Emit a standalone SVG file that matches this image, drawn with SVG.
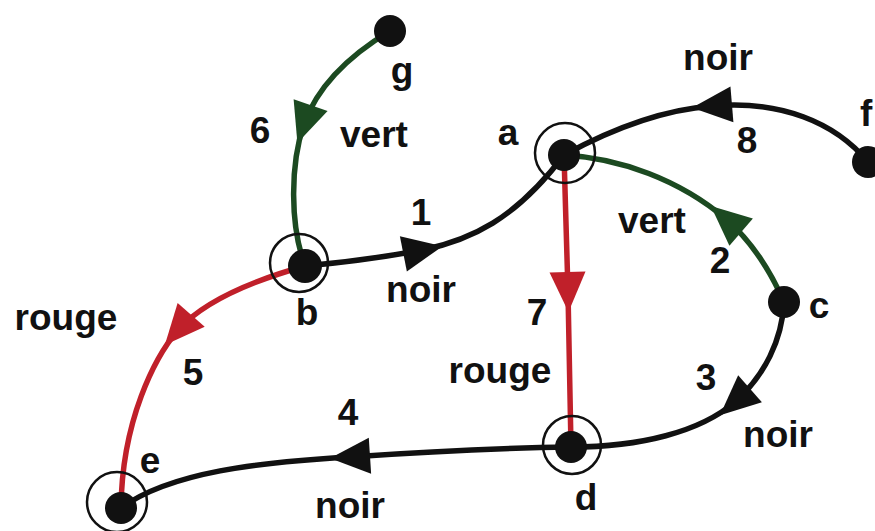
<svg xmlns="http://www.w3.org/2000/svg" width="875" height="531" viewBox="0 0 875 531">
<style>
.e{fill:none;stroke-width:5.5;stroke-linecap:round}
.k{stroke:#111111}
.g{stroke:#1c4a21}
.r{stroke:#c0202a}
.dot{fill:#111111}
.ring{fill:none;stroke:#111111;stroke-width:2.5}
text{font-family:"Liberation Sans",Arial,sans-serif;font-weight:bold;font-size:37px;fill:#111111;text-anchor:middle}
</style>
<defs>
<marker id="ak" markerUnits="userSpaceOnUse" viewBox="-25 -25 50 50" markerWidth="50" markerHeight="50" refX="0" refY="0" orient="auto"><path d="M20,0 L-20,-18 L-20,18 Z" fill="#111111"/></marker>
<marker id="ag" markerUnits="userSpaceOnUse" viewBox="-25 -25 50 50" markerWidth="50" markerHeight="50" refX="0" refY="0" orient="auto"><path d="M20,0 L-20,-18 L-20,18 Z" fill="#1c4a21"/></marker>
<marker id="ar" markerUnits="userSpaceOnUse" viewBox="-25 -25 50 50" markerWidth="50" markerHeight="50" refX="0" refY="0" orient="auto"><path d="M20,0 L-20,-18 L-20,18 Z" fill="#c0202a"/></marker>
</defs>
<g id="connectors">
<path id="e1" class="e k" marker-mid="url(#ak)" d="M305,266 C350,262 390,256 423,250 C470,240 515,220 564,155"/>
<path id="e2" class="e g" marker-mid="url(#ag)" d="M784,302 C770,270 750,240 726,219 C680,180 620,158 564,155"/>
<path id="e3" class="e k" marker-mid="url(#ak)" d="M784,302 C782,340 765,375 735,402 C700,432 640,447 571,447"/>
<path id="e4" class="e k" marker-mid="url(#ak)" d="M571,447 C500,448 420,452 350,457 C260,462 170,472 121,508"/>
<path id="e5" class="e r" marker-mid="url(#ar)" d="M305,266 C255,280 205,300 178,330 C155,357 122,420 121,508"/>
<path id="e6" class="e g" marker-mid="url(#ag)" d="M390,31 C350,55 318,85 304,124 C290,165 290,225 305,266"/>
<path id="e7" class="e r" marker-mid="url(#ar)" d="M564,155 L568,292 L571,447"/>
<path id="e8" class="e k" marker-mid="url(#ak)" d="M868,162 C835,122 780,100 712,106 C660,110 610,130 564,155"/>
</g>
<g id="labels">
<text x="421" y="225">1</text><text x="421" y="302">noir</text>
<text x="720" y="273">2</text><text x="652" y="233">vert</text>
<text x="706" y="390">3</text><text x="778" y="447">noir</text>
<text x="348" y="425">4</text><text x="350" y="518">noir</text>
<text x="193" y="385">5</text><text x="66" y="330">rouge</text>
<text x="260" y="143">6</text><text x="374" y="147">vert</text>
<text x="537" y="325">7</text><text x="500" y="383">rouge</text>
<text x="747" y="153">8</text><text x="718" y="70">noir</text>
</g>
<g id="node-a"><circle class="ring" cx="565" cy="153" r="30"/><circle class="dot" cx="564" cy="155" r="16"/><text x="508" y="145">a</text></g>
<g id="node-b"><circle class="ring" cx="299" cy="263" r="29"/><circle class="dot" cx="305" cy="266" r="17"/><text x="307" y="325">b</text></g>
<g id="node-c"><circle class="dot" cx="784" cy="302" r="16"/><text x="819" y="318">c</text></g>
<g id="node-d"><circle class="ring" cx="572" cy="445" r="29"/><circle class="dot" cx="571" cy="447" r="16"/><text x="586" y="510">d</text></g>
<g id="node-e"><circle class="ring" cx="117" cy="502" r="30"/><circle class="dot" cx="121" cy="508" r="16"/><text x="150" y="473">e</text></g>
<g id="node-f"><circle class="dot" cx="868" cy="162" r="16"/><text x="860" y="126" style="text-anchor:start">f</text></g>
<g id="node-g"><circle class="dot" cx="390" cy="31" r="16"/><text x="402" y="83">g</text></g>
</svg>
